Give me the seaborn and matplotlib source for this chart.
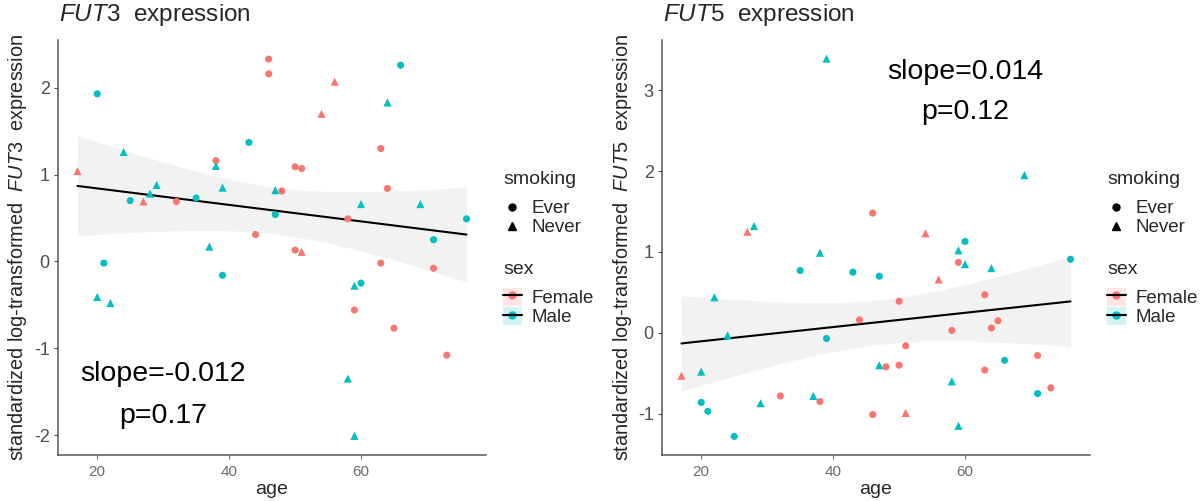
import numpy as np
import pandas as pd
import matplotlib.pyplot as plt
import seaborn as sns
from matplotlib.lines import Line2D
from matplotlib.patches import Rectangle

# --- data (same 48 samples in both panels) ---
age = [17, 20, 20, 21, 22, 24, 25, 27, 28, 29, 32, 35, 37, 38, 38, 39,
       39, 43, 44, 46, 46, 47, 47, 48, 50, 50, 51, 51, 54, 56, 58, 58,
       59, 59, 59, 60, 60, 63, 63, 64, 64, 65, 66, 69, 71, 71, 73, 76]
sex = ['Female', 'Male', 'Male', 'Male', 'Male', 'Male', 'Male', 'Female',
       'Male', 'Male', 'Female', 'Male', 'Male', 'Female', 'Male', 'Male',
       'Male', 'Male', 'Female', 'Female', 'Female', 'Male', 'Male', 'Female',
       'Female', 'Female', 'Female', 'Female', 'Female', 'Female', 'Female', 'Male',
       'Male', 'Male', 'Female', 'Male', 'Male', 'Female', 'Female', 'Male',
       'Female', 'Female', 'Male', 'Male', 'Male', 'Female', 'Female', 'Male']
smoking = ['Never', 'Ever', 'Never', 'Ever', 'Never', 'Never', 'Ever', 'Never',
           'Never', 'Never', 'Ever', 'Ever', 'Never', 'Ever', 'Never', 'Never',
           'Ever', 'Ever', 'Ever', 'Ever', 'Ever', 'Never', 'Ever', 'Ever',
           'Ever', 'Ever', 'Ever', 'Never', 'Never', 'Never', 'Ever', 'Never',
           'Never', 'Never', 'Ever', 'Never', 'Ever', 'Ever', 'Ever', 'Never',
           'Ever', 'Ever', 'Ever', 'Never', 'Ever', 'Ever', 'Ever', 'Ever']
fut3 = [1.04, 1.93, -0.41, -0.02, -0.48, 1.26, 0.70, 0.69, 0.78, 0.88, 0.69, 0.73,
        0.17, 1.16, 1.10, 0.85, -0.16, 1.37, 0.31, 2.33, 2.16, 0.82, 0.54, 0.81,
        1.09, 0.13, 1.07, 0.11, 1.70, 2.07, 0.49, -1.35, -0.28, -2.01, -0.56, 0.66,
        -0.25, 1.30, -0.02, 1.83, 0.84, -0.77, 2.26, 0.66, 0.25, -0.08, -1.08, 0.49]
fut5 = [-0.53, -0.86, -0.48, -0.97, 0.44, -0.03, -1.28, 1.25, 1.32, -0.87, -0.78, 0.77,
        -0.78, -0.85, 0.99, 3.39, -0.07, 0.75, 0.16, 1.48, -1.01, -0.40, 0.70, -0.42,
        0.39, -0.40, -0.16, -0.99, 1.23, 0.66, 0.03, -0.60, 1.02, -1.15, 0.87, 0.85,
        1.13, 0.47, -0.46, 0.80, 0.06, 0.15, -0.34, 1.95, -0.75, -0.28, -0.68, 0.91]

genes = ['FUT3', 'FUT5']
slopes = ['slope=-0.012', 'slope=0.014']
pvals = ['p=0.17', 'p=0.12']
label_pos = [(30, -1.30, -1.78), (60, 3.23, 2.73)]   # x, y(slope), y(p)
ylims = [(-2.23, 2.55), (-1.51, 3.62)]
yticks = [[-2, -1, 0, 1, 2], [-1, 0, 1, 2, 3]]

palette = {'Female': '#F8766D', 'Male': '#00BFC4'}
T975 = 2.013  # t quantile, 46 df (like geom_smooth's lm band)


def lm_band(x, y, grid):
    # analytic 95% confidence band of an OLS fit
    x = np.asarray(x, float)
    y = np.asarray(y, float)
    b, a = np.polyfit(x, y, 1)
    resid = y - (a + b * x)
    s = np.sqrt((resid ** 2).sum() / (len(x) - 2))
    sxx = ((x - x.mean()) ** 2).sum()
    se = s * np.sqrt(1 / len(x) + (grid - x.mean()) ** 2 / sxx)
    fit = a + b * grid
    return fit - T975 * se, fit + T975 * se


def make_plot():
    df = pd.DataFrame({'age': age, 'sex': sex, 'smoking': smoking,
                       'FUT3': fut3, 'FUT5': fut5})

    sns.set_theme(style='white')
    plt.rcParams['font.family'] = ['Liberation Sans', 'DejaVu Sans']
    plt.rcParams['mathtext.fontset'] = 'custom'
    plt.rcParams['mathtext.it'] = 'Liberation Sans:italic'
    plt.rcParams['mathtext.rm'] = 'Liberation Sans'
    plt.rcParams['axes.unicode_minus'] = False

    fig = plt.figure(figsize=(12.03, 5.01), dpi=100)
    W, H = 1203, 501
    lefts = [58, 662]

    for i, gene in enumerate(genes):
        ax = fig.add_axes([lefts[i] / W, 46 / H, 428 / W, 415 / H])

        # confidence band + regression line
        grid = np.linspace(min(age), max(age), 100)
        lo, hi = lm_band(df['age'], df[gene], grid)
        ax.fill_between(grid, lo, hi, color='#F2F2F2', lw=0, zorder=1)
        sns.regplot(x='age', y=gene, data=df, scatter=False, ci=None, ax=ax,
                    color='black', line_kws={'lw': 1.5, 'zorder': 3})

        # points, triangles a bit bigger like ggplot shape 17
        ever = df[df['smoking'] == 'Ever']
        never = df[df['smoking'] == 'Never']
        sns.scatterplot(x='age', y=gene, hue='sex', data=ever, palette=palette,
                        marker='o', s=26, linewidth=0, legend=False, ax=ax, zorder=4)
        sns.scatterplot(x='age', y=gene, hue='sex', data=never, palette=palette,
                        marker='^', s=34, linewidth=0, legend=False, ax=ax, zorder=4)

        ax.set_xlim(14.05, 78.95)
        ax.set_ylim(*ylims[i])
        ax.set_xticks([20, 40, 60])
        ax.set_yticks(yticks[i])
        ax.set_xlabel('')
        ax.set_ylabel('')
        for s in ['top', 'right']:
            ax.spines[s].set_visible(False)
        for s in ['left', 'bottom']:
            ax.spines[s].set_color('#555555')
            ax.spines[s].set_linewidth(1.1)
        ax.tick_params(axis='y', labelsize=13, colors='#4D4D4D', length=3,
                       width=0.8, left=True, pad=3)
        ax.tick_params(axis='x', labelsize=11, colors='#6b6b6b', length=3,
                       width=0.8, bottom=True, pad=4)

        # slope / p annotations
        lx, ly1, ly2 = label_pos[i]
        ax.text(lx, ly1, slopes[i], fontsize=20.5, ha='center', va='center', color='black')
        ax.text(lx, ly2, pvals[i], fontsize=20.5, ha='center', va='center', color='black')

        x0 = lefts[i]
        fig.text((x0 + 1) / W, 1 - 15 / H, r'$\it{FUT}$' + gene[-1] + '  expression',
                 fontsize=17.5, ha='left', va='center')
        fig.text((x0 - 40) / W, 1 - 247 / H,
                 r'standardized log-transformed  $\it{FUT}$' + gene[-1] + '  expression',
                 fontsize=14.3, rotation=90, ha='center', va='center')
        fig.text((x0 + 214) / W, 1 - 489 / H, 'age', fontsize=14,
                 ha='center', va='center')

        # legends: titles as text, entries as legends
        lx0 = x0 + 445
        fig.text(lx0 / W, 1 - 180 / H, 'smoking', fontsize=14, ha='left', va='center')
        fig.text(lx0 / W, 1 - 270 / H, 'sex', fontsize=14, ha='left', va='center')

        smoke_handles = [Line2D([], [], marker='o', color='black', ls='', markersize=5),
                         Line2D([], [], marker='^', color='black', ls='', markersize=6)]
        fig.legend(smoke_handles, ['Ever', 'Never'],
                   loc='center left', bbox_to_anchor=(lx0 / W, 1 - 218 / H),
                   frameon=False, fontsize=13.5, handlelength=1.0,
                   handletextpad=0.5, labelspacing=0.1, borderpad=0,
                   borderaxespad=0)
        sex_handles = []
        for k in ['Female', 'Male']:
            bg = Rectangle((0, 0), 1, 1, facecolor=palette[k], alpha=0.18, lw=0)
            dot = Line2D([], [], marker='o', color=palette[k], ls='', markersize=5)
            ln = Line2D([], [], color='black', lw=1.5)
            sex_handles.append((bg, dot, ln))
        fig.legend(sex_handles, ['Female', 'Male'],
                   loc='center left', bbox_to_anchor=(lx0 / W, 1 - 307 / H),
                   frameon=False, fontsize=13.5, handlelength=1.0,
                   handleheight=1.1, handletextpad=0.5, labelspacing=0.0,
                   borderpad=0, borderaxespad=0)

    plt.savefig('out.png', dpi=100)
    plt.close()


if __name__ == '__main__':
    make_plot()
